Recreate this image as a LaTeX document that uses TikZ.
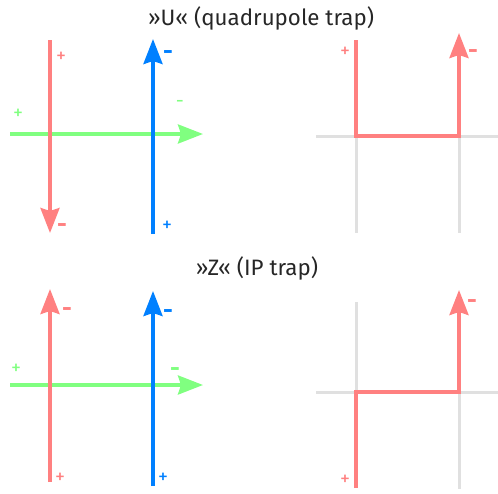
\documentclass[tikz,border=0pt]{standalone}
\usepackage{fontspec}
\setmainfont{Fira Sans}
\usetikzlibrary{arrows.meta}
\definecolor{elred}{RGB}{255,128,128}
\definecolor{elblue}{RGB}{0,128,255}
\definecolor{elgreen}{RGB}{128,255,128}
\definecolor{gridgray}{RGB}{224,224,224}

\begin{document}
\begin{tikzpicture}[x=1pt, y=-1pt,
  wire/.style={line width=3.5pt, -{Stealth[length=25pt, width=19pt, inset=3pt]}},
  path/.style={line width=3.5pt, color=elred, line join=miter},
  grid/.style={line width=3pt, color=gridgray},
  sign/.style={inner sep=0pt, font=\fontsize{20}{20}\selectfont},
  bsign/.style={inner sep=0pt, font=\fontsize{24}{24}\selectfont\bfseries},
  title/.style={inner sep=0pt, font=\fontsize{22.3}{24}\selectfont, color=black!85}]
\useasboundingbox (0,0) rectangle (498,493);

% --- U (quadrupole trap) ---
\node[title] (ttlU) at (261,18) {»U« (quadrupole trap)};
\coordinate (uRa) at (50,40);  \coordinate (uRb) at (50,233);
\coordinate (uBa) at (153,234); \coordinate (uBb) at (153,39);
\coordinate (uGa) at (10,134);  \coordinate (uGb) at (203,134);
\draw[wire, elgreen] (uGa) -- (uGb);
\draw[wire, elred] (uRa) -- (uRb);
\draw[wire, elblue] (uBa) -- (uBb);
\node[sign, elred] (uRp) at (61,57) {+};
\node[bsign, elred] (uRm) at (62,228) {-};
\node[bsign, elblue] (uBm) at (168,55) {-};
\node[sign, elblue] (uBp) at (167,226) {+};
\node[sign, elgreen] (uGp) at (18,114) {+};
\node[sign, elgreen] (uGm) at (180,104) {-};

\coordinate (uHa) at (316,136); \coordinate (uHb) at (498,136);
\coordinate (uVa) at (356,136); \coordinate (uVb) at (356,233);
\coordinate (uWa) at (459,136); \coordinate (uWb) at (459,233);
\draw[grid] (uHa) -- (uHb);
\draw[grid] (uVa) -- (uVb);
\draw[grid] (uWa) -- (uWb);
\coordinate (uPa) at (356,40); \coordinate (uPb) at (459,33);
\draw[path, -{Stealth[length=25pt, width=19pt, inset=3pt]}] (uPa) |- (uWa) -- (uPb);
\node[sign, elred] (uPp) at (345,52) {+};
\node[bsign, elred] (uPm) at (473,54) {-};

% --- Z (IP trap) ---
\node[title] (ttlZ) at (257,268) {»Z« (IP trap)};
\coordinate (zRa) at (50,482);  \coordinate (zRb) at (50,289);
\coordinate (zBa) at (153,486); \coordinate (zBb) at (153,291);
\coordinate (zGa) at (10,385);  \coordinate (zGb) at (203,385);
\draw[wire, elgreen] (zGa) -- (zGb);
\draw[wire, elred] (zRa) -- (zRb);
\draw[wire, elblue] (zBa) -- (zBb);
\node[bsign, elred] (zRm) at (67,312) {-};
\node[sign, elred] (zRp) at (60,478) {+};
\node[bsign, elblue] (zBm) at (168,314) {-};
\node[sign, elblue] (zBp) at (163,478) {+};
\node[sign, elgreen] (zGp) at (16,369) {+};
\node[bsign, elgreen] (zGm) at (175,372) {-};

\coordinate (zHa) at (316,392); \coordinate (zHb) at (498,392);
\coordinate (zVa) at (356,302); \coordinate (zVb) at (356,392);
\coordinate (zWa) at (459,392); \coordinate (zWb) at (459,489);
\draw[grid] (zHa) -- (zHb);
\draw[grid] (zVa) -- (zVb);
\draw[grid] (zWa) -- (zWb);
\coordinate (zPa) at (356,488); \coordinate (zPb) at (459,290);
\draw[path, -{Stealth[length=25pt, width=19pt, inset=3pt]}] (zPa) |- (zWa) -- (zPb);
\node[sign, elred] (zPp) at (345,480) {+};
\node[bsign, elred] (zPm) at (472,304) {-};
\end{tikzpicture}
\end{document}
